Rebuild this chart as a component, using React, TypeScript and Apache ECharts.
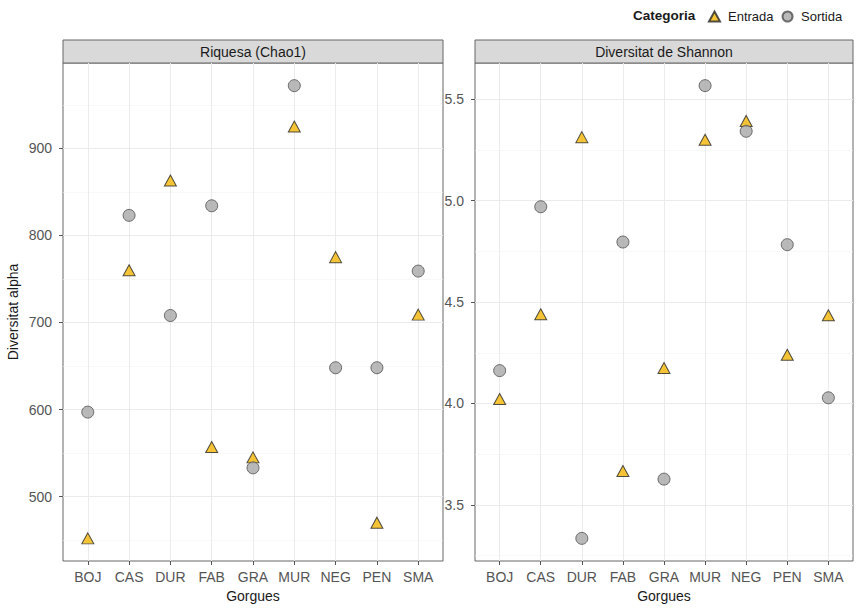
import React, { useEffect, useRef } from "react";
import * as echarts from "echarts";

const categories = ["BOJ", "CAS", "DUR", "FAB", "GRA", "MUR", "NEG", "PEN", "SMA"];
const chaoEntrada = [452, 760, 863, 557, 545, 925, 775, 470, 709];
const chaoSortida = [597, 823, 708, 834, 533, 972, 648, 648, 759];
const shannonEntrada = [4.022, 4.44, 5.313, 3.667, 4.175, 5.3, 5.393, 4.24, 4.435];
const shannonSortida = [4.162, 4.97, 3.335, 4.796, 3.627, 5.567, 5.342, 4.783, 4.028];
const chaoTicks = [500, 600, 700, 800, 900];
const chaoMinor = [450, 550, 650, 750, 850, 950];
const shannonTicks = [3.5, 4.0, 4.5, 5.0, 5.5];
const shannonMinor = [3.25, 3.75, 4.25, 4.75, 5.25];
const panelTitles = ["Riquesa (Chao1)", "Diversitat de Shannon"];
const xTitle = "Gorgues";
const yTitle = "Diversitat alpha";
const legendTitle = "Categoria";

const FONT = "Liberation Sans, Arial, Helvetica, sans-serif";
const TRI_FILL = "#F2B705";
const CIR_FILL = "#A9A7A7";

function expand(a: number[], b: number[]) {
  const all = a.concat(b);
  const lo = Math.min(...all);
  const hi = Math.max(...all);
  const r = hi - lo;
  return [lo - 0.05 * r, hi + 0.05 * r];
}

export default function App() {
  const ref = useRef<HTMLDivElement>(null);
  useEffect(() => {
    if (!ref.current) return;
    const chart = echarts.init(ref.current, null, { renderer: "svg" });
    const chaoR = expand(chaoEntrada, chaoSortida);
    const shanR = expand(shannonEntrada, shannonSortida);
    const catIdx = categories.map((_, i) => i + 1);

    const grids = [
      { left: 63, top: 63, width: 380, height: 502 },
      { left: 475, top: 63, width: 378, height: 502 },
    ];

    const xAxis = grids.map((_, gi) => ({
      type: "value",
      gridIndex: gi,
      min: 0.4,
      max: 9.6,
      name: xTitle,
      nameLocation: "middle",
      nameGap: 28,
      nameTextStyle: { color: "#1a1a1a", fontSize: 14, fontFamily: FONT },
      axisLine: { show: false },
      axisTick: { show: true, length: 4, lineStyle: { color: "#555" }, customValues: catIdx },
      axisLabel: {
        show: true,
        customValues: catIdx,
        margin: 9,
        color: "#555",
        fontSize: 14,
        fontFamily: FONT,
        formatter: (v: number) => categories[Math.round(v) - 1] ?? "",
      },
      splitLine: { show: true, lineStyle: { color: "#EBEBEB", width: 1 } },
    }));

    const yMajor = (gi: number, r: number[], ticks: number[], fmt: (v: number) => string, name?: string) => ({
      type: "value",
      gridIndex: gi,
      min: r[0],
      max: r[1],
      position: "left",
      name: name,
      nameLocation: "middle",
      nameRotate: 90,
      nameGap: 43,
      nameTextStyle: { color: "#1a1a1a", fontSize: 14, fontFamily: FONT },
      axisLine: { show: false },
      axisTick: { show: true, length: 4, lineStyle: { color: "#555" }, customValues: ticks },
      axisLabel: { show: true, customValues: ticks, margin: 11, color: "#555", fontSize: 14, fontFamily: FONT, formatter: fmt },
      splitLine: { show: true, lineStyle: { color: "#EBEBEB", width: 1 } },
    });
    const yMinor = (gi: number, r: number[], ticks: number[]) => ({
      type: "value",
      gridIndex: gi,
      min: r[0],
      max: r[1],
      position: "left",
      axisLine: { show: false },
      axisTick: { show: false, customValues: ticks },
      axisLabel: { show: false, customValues: ticks },
      splitLine: { show: true, lineStyle: { color: "#F3F3F3", width: 0.6 } },
    });

    const yAxis = [
      yMajor(0, chaoR, chaoTicks, (v) => String(Math.round(v)), yTitle),
      yMajor(1, shanR, shannonTicks, (v) => v.toFixed(1)),
      yMinor(0, chaoR, chaoMinor),
      yMinor(1, shanR, shannonMinor),
    ];

    const triStyle = { color: TRI_FILL, borderColor: "#262626", borderWidth: 1 };
    const cirStyle = { color: CIR_FILL, borderColor: "#4d4d4d", borderWidth: 1 };
    const mk = (vals: number[]) => vals.map((v, i) => [i + 1, v]);

    const series: any[] = [
      { name: "Entrada", type: "scatter", xAxisIndex: 0, yAxisIndex: 0, symbol: "triangle", symbolSize: [12, 11], itemStyle: triStyle, data: mk(chaoEntrada) },
      { name: "Sortida", type: "scatter", xAxisIndex: 0, yAxisIndex: 0, symbol: "circle", symbolSize: 12, itemStyle: cirStyle, data: mk(chaoSortida) },
      { name: "Entrada", type: "scatter", xAxisIndex: 1, yAxisIndex: 1, symbol: "triangle", symbolSize: [12, 11], itemStyle: triStyle, data: mk(shannonEntrada) },
      { name: "Sortida", type: "scatter", xAxisIndex: 1, yAxisIndex: 1, symbol: "circle", symbolSize: 12, itemStyle: cirStyle, data: mk(shannonSortida) },
    ];

    const graphic: any[] = [];
    grids.forEach((g, i) => {
      graphic.push({
        type: "rect",
        shape: { x: g.left, y: 40, width: g.width, height: 23 },
        style: { fill: "#D9D9D9", stroke: "#666", lineWidth: 1 },
        silent: true,
      });
      graphic.push({
        type: "text",
        x: g.left + g.width / 2,
        y: 51.5,
        style: { text: panelTitles[i], fill: "#1a1a1a", font: `14px ${FONT}`, align: "center", verticalAlign: "middle" },
        silent: true,
      });
    });
    graphic.push({
      type: "text",
      x: 633,
      y: 15,
      style: { text: legendTitle, fill: "#1a1a1a", font: `bold 13.5px ${FONT}`, align: "left", verticalAlign: "middle" },
      silent: true,
    });

    chart.setOption({
      animation: false,
      backgroundColor: "#ffffff",
      grid: grids.map((g) => ({ ...g, show: true, backgroundColor: "#fff", borderColor: "#666", borderWidth: 1, containLabel: false })),
      xAxis,
      yAxis,
      series,
      legend: {
        left: 703,
        top: 5,
        itemWidth: 11,
        itemHeight: 10,
        itemGap: 8,
        data: [
          { name: "Entrada", icon: "triangle" },
          { name: "Sortida", icon: "circle" },
        ],
        textStyle: { color: "#1a1a1a", fontSize: 13, fontFamily: FONT, padding: [0, 0, 0, 3] },
      },
      graphic,
    });
    return () => chart.dispose();
  }, []);
  return <div ref={ref} style={{ position: "fixed", left: 0, top: 0, width: 857, height: 608 }} />;
}
